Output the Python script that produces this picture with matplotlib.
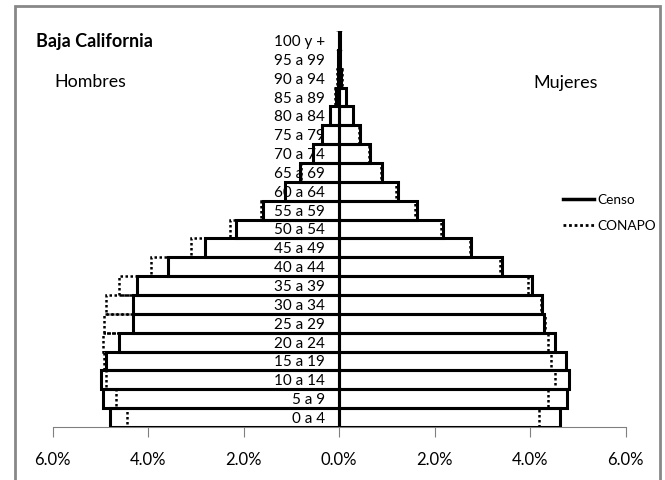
import numpy as np
import matplotlib
matplotlib.use('Agg')
import matplotlib.pyplot as plt
from matplotlib.lines import Line2D
from matplotlib.patches import Rectangle

plt.rcParams['font.family'] = ['Lato', 'DejaVu Sans']

grupos = ['0 a 4', '5 a 9', '10 a 14', '15 a 19', '20 a 24', '25 a 29', '30 a 34',
          '35 a 39', '40 a 44', '45 a 49', '50 a 54', '55 a 59', '60 a 64', '65 a 69',
          '70 a 74', '75 a 79', '80 a 84', '85 a 89', '90 a 94', '95 a 99', '100 y +']

# porcentajes (%)
hombres_censo = [4.80, 4.94, 4.99, 4.88, 4.61, 4.31, 4.31, 4.24, 3.59, 2.81, 2.16,
                 1.59, 1.13, 0.82, 0.55, 0.36, 0.18, 0.07, 0.03, 0.015, 0.01]
mujeres_censo = [4.63, 4.78, 4.82, 4.75, 4.52, 4.29, 4.25, 4.04, 3.42, 2.76, 2.18,
                 1.64, 1.24, 0.90, 0.64, 0.43, 0.30, 0.14, 0.05, 0.03, 0.015]
hombres_conapo = [4.44, 4.66, 4.87, 4.92, 4.95, 4.93, 4.87, 4.60, 3.93, 3.10, 2.29,
                  1.63, 1.14, 0.79, 0.55, 0.36, 0.18, 0.08, 0.035, 0.015, 0.005]
mujeres_conapo = [4.19, 4.38, 4.52, 4.43, 4.38, 4.32, 4.23, 3.95, 3.37, 2.75, 2.14,
                  1.59, 1.19, 0.88, 0.62, 0.42, 0.29, 0.14, 0.06, 0.03, 0.015]

y = np.arange(len(grupos))
hc = -np.array(hombres_censo)
hp = -np.array(hombres_conapo)

fig = plt.figure(figsize=(6.65, 4.8), dpi=100)
ax = fig.add_axes([52.5 / 665, 53 / 480, 573 / 665, 396 / 480])

# relleno blanco debajo de las etiquetas
ax.barh(y, hc, height=1.0, color='white', linewidth=0, zorder=1)
ax.barh(y, mujeres_censo, height=1.0, color='white', linewidth=0, zorder=1)
# censo: borde negro grueso
ax.barh(y, hc, height=1.0, fill=False, edgecolor='black', linewidth=2.2, zorder=3)
ax.barh(y, mujeres_censo, height=1.0, fill=False, edgecolor='black', linewidth=2.2, zorder=3)
# conapo: contorno punteado
ax.barh(y, hp, height=1.0, fill=False, edgecolor='black', linewidth=1.8,
        linestyle=(0, (1, 1)), zorder=4)
ax.barh(y, mujeres_conapo, height=1.0, fill=False, edgecolor='black', linewidth=1.8,
        linestyle=(0, (1, 1)), zorder=4)

ax.set_xlim(-6, 6)
ax.set_ylim(-0.5, len(grupos) - 0.5)

for s in ['top', 'right']:
    ax.spines[s].set_visible(False)
ax.spines['left'].set_position(('data', 0))
ax.spines['left'].set_color('#808080')
ax.spines['bottom'].set_color('#808080')

xt = [-6, -4, -2, 0, 2, 4, 6]
ax.set_xticks(xt)
ax.set_xticklabels(['%.1f%%' % abs(v) for v in xt], fontsize=12)
ax.tick_params(axis='x', direction='out', length=7, color='#808080', pad=11)

ax.set_yticks(y)
ax.set_yticklabels(grupos, fontsize=11)
ax.set_yticks(np.arange(-0.5, len(grupos), 1.0), minor=True)
ax.tick_params(axis='y', which='major', length=0, pad=10)
ax.tick_params(axis='y', which='minor', direction='inout', length=5, color='#808080')

fig.text(36 / 665, 1 - 42 / 480, 'Baja California', fontsize=13, fontweight='bold', va='center')
fig.text(54 / 665, 1 - 82 / 480, 'Hombres', fontsize=12.8, va='center')
fig.text(533 / 665, 1 - 83 / 480, 'Mujeres', fontsize=13, va='center')

handles = [Line2D([], [], color='black', linewidth=2.5),
           Line2D([], [], color='black', linewidth=2, linestyle=(0, (1, 1)))]
ax.legend(handles, ['Censo', 'CONAPO'], loc='center left',
          bbox_to_anchor=(563 / 665, 1 - 213 / 480), bbox_transform=fig.transFigure,
          frameon=False, fontsize=9.8, handlelength=2.3, handletextpad=0.25, labelspacing=1.05,
          borderaxespad=0, borderpad=0)

fig.patches.append(Rectangle((15 / 665, -0.05), 645 / 665, 1.05 - 6 / 480, transform=fig.transFigure,
                             fill=False, edgecolor='#888888', linewidth=2))

fig.savefig('out.png', dpi=100)
